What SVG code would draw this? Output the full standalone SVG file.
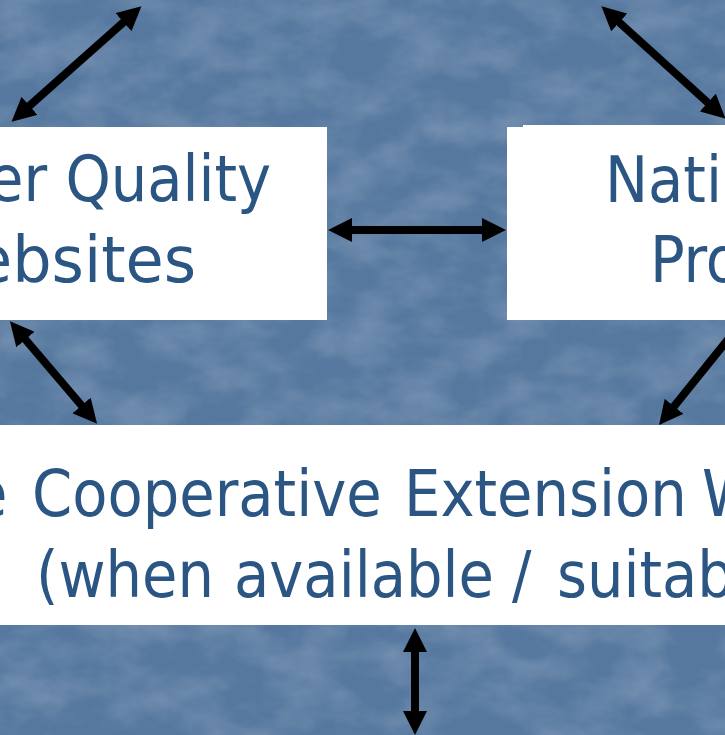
<svg xmlns="http://www.w3.org/2000/svg" width="725" height="735" viewBox="0 0 725 735">
  <style>
    .box { fill: #ffffff; }
    .lbl { font-family: "DejaVu Sans Condensed", "DejaVu Sans", "Liberation Sans", sans-serif; font-size: 64px; fill: #2b5684; }
    .conn { stroke: #000000; stroke-width: 8; fill: none; marker-start: url(#head); marker-end: url(#head); }
  </style>
  <defs>
    <marker id="head" viewBox="0 0 24 24" refX="6" refY="12" markerWidth="24" markerHeight="24" markerUnits="userSpaceOnUse" orient="auto-start-reverse">
      <path d="M0,0 L24,12 L0,24 z" fill="#000000"/>
    </marker>
    <filter id="tex" x="0" y="0" width="725" height="735" filterUnits="userSpaceOnUse">
      <feTurbulence type="fractalNoise" baseFrequency="0.018 0.028" numOctaves="4" seed="11" result="n"/>
      <feColorMatrix in="n" type="matrix" values="0 0 0 0 1  0 0 0 0 1  0 0 0 0 1  0.32 0 0 0 -0.11"/>
    </filter>
  </defs>

  <!-- background -->
  <rect x="0" y="0" width="725" height="735" fill="#56789f"/>
  <rect x="0" y="0" width="725" height="735" fill="#ffffff" filter="url(#tex)"/>

  <!-- connectors -->
  <g id="connectors">
    <line class="conn" x1="128" y1="18.2" x2="25" y2="109.8"/>
    <line class="conn" x1="614.8" y1="18.4" x2="712.2" y2="106.6"/>
    <line class="conn" x1="346" y1="230" x2="488" y2="230"/>
    <line class="conn" x1="21.6" y1="335" x2="85.4" y2="410"/>
    <line class="conn" x1="759.3" y1="300.4" x2="670.3" y2="411"/>
    <line class="conn" x1="415" y1="646" x2="415" y2="717"/>
  </g>

  <!-- nodes -->
  <g id="node-other-quality-websites">
    <rect class="box" x="-10" y="127" width="337" height="193"/>
    <text class="lbl" x="-12" y="201">er Quality</text>
    <text class="lbl" x="-26" y="282" textLength="222" lengthAdjust="spacingAndGlyphs">ebsites</text>
  </g>

  <g id="node-national">
    <rect class="box" x="507" y="127" width="228" height="193"/>
    <rect class="box" x="523" y="125" width="212" height="4"/>
    <text class="lbl" x="605" y="202">Natio</text>
    <text class="lbl" x="650" y="282">Pro</text>
  </g>

  <g id="node-extension">
    <rect class="box" x="-10" y="425" width="745" height="200"/>
    <text class="lbl" y="516"><tspan x="-28">e</tspan><tspan x="32">Cooperative</tspan><tspan x="404">Extension</tspan><tspan x="702">W</tspan></text>
    <text class="lbl" y="597"><tspan x="36">(when</tspan><tspan x="234">available</tspan><tspan x="512">/</tspan><tspan x="557">suitab</tspan></text>
  </g>
</svg>
